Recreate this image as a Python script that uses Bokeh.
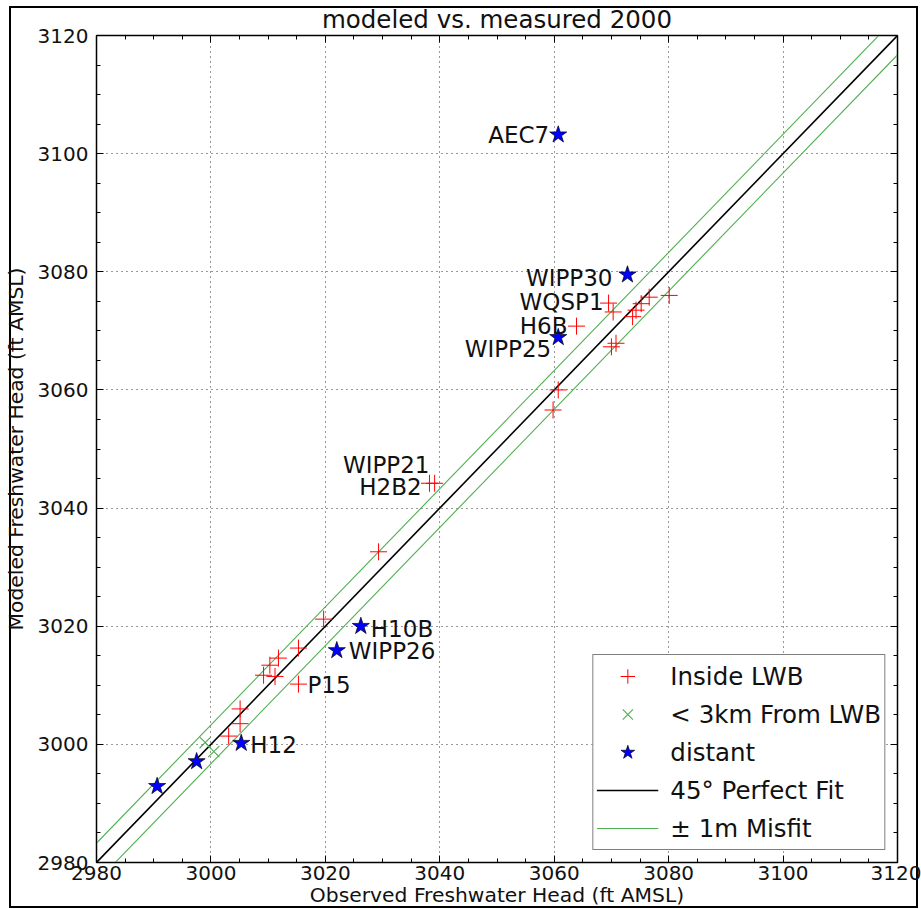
from bokeh.plotting import figure
from bokeh.models import Range1d, LinearAxis, SingleIntervalTicker, Legend, LegendItem
from bokeh.core.properties import value
from bokeh.embed import file_html
from bokeh.resources import INLINE

# ---------------- data ----------------
inside_x = [3019.7, 3015.3, 3011.8, 3010.3, 3009.2, 3011.2, 3015.3, 3005.1, 3005.1, 3003.1,
            3029.3, 3038.2, 3039.1, 3059.8, 3060.7, 3070.0, 3070.8, 3063.9, 3069.5, 3070.3,
            3073.7, 3074.3, 3075.2, 3076.6, 3080.1]
inside_y = [3021.2, 3016.3, 3014.6, 3013.4, 3011.7, 3011.5, 3010.2, 3006.0, 3003.5, 3001.4,
            3032.6, 3044.2, 3044.2, 3056.6, 3060.0, 3067.3, 3067.9, 3070.8, 3074.7, 3073.2,
            3072.4, 3073.5, 3074.6, 3075.7, 3076.0]

near_x = [2999.0, 3000.5]
near_y = [3000.3, 2998.8]

distant_x = [3060.7, 3072.8, 3060.7, 3026.2, 3022.0, 3005.3, 2997.5, 2990.6]
distant_y = [3103.2, 3079.5, 3068.9, 3020.0, 3015.9, 3000.2, 2997.1, 2992.9]

fit_x = [2970, 3130]
misfit = 3.28  # 1 m in ft

# labels placed left of their point (right aligned)
left_names = ["AEC7", "WIPP30", "WQSP1", "H6B", "WIPP25", "WIPP21", "H2B2"]
left_x = [3060.7, 3072.8, 3069.5, 3063.9, 3060.7, 3038.2, 3039.1]
left_y = [3103.2, 3079.5, 3074.7, 3070.8, 3068.9, 3044.2, 3044.2]
left_dx = [-9, -15, -5, -9, -7, 0, -13]
left_dy = [0, 3, -1, 0, 12, -18, 4]

# labels placed right of their point (left aligned)
right_names = ["H10B", "WIPP26", "P15", "H12"]
right_x = [3026.2, 3022.0, 3015.3, 3005.3]
right_y = [3020.0, 3015.9, 3010.2, 3000.2]
right_dx = [10, 12, 9, 9]
right_dy = [3, 1, 1, 2]

FONT = "DejaVu Sans"
GREEN = "#4fae4f"

p = figure(width=921, height=909, output_backend="svg", toolbar_location=None,
           x_range=Range1d(2980, 3120), y_range=Range1d(2980, 3120),
           min_border_left=94, min_border_right=24, min_border_top=35, min_border_bottom=46,
           title="modeled vs. measured 2000",
           x_axis_label="Observed Freshwater Head (ft AMSL)",
           y_axis_label="Modeled Freshwater Head (ft AMSL)")
# outer picture frame drawn behind a transparent canvas border
line = "linear-gradient(#000,#000)"
p.styles = {"background": (f"{line} 9px 6px / 2px 902px no-repeat, "
                           f"{line} 9px 6px / 909px 2px no-repeat, "
                           f"{line} 916px 6px / 2px 902px no-repeat, "
                           f"{line} 9px 906px / 909px 2px no-repeat, white")}
p.background_fill_color = "white"
p.border_fill_color = None
p.outline_line_color = "black"
p.outline_line_width = 1.5

p.title.align = "center"
p.title.text_font = FONT
p.title.text_font_size = "24.5px"
p.title.text_font_style = "normal"
p.title.text_color = "#111111"
p.title.standoff = 3

for ax in (p.xaxis[0], p.yaxis[0]):
    ax.ticker = SingleIntervalTicker(interval=20, num_minor_ticks=4)
    ax.major_tick_in = 7
    ax.major_tick_out = 0
    ax.minor_tick_in = 4
    ax.minor_tick_out = 0
    ax.major_tick_line_color = "black"
    ax.minor_tick_line_color = "black"
    ax.axis_line_color = "black"
    ax.major_label_text_font = FONT
    ax.major_label_text_font_size = "20px"
    ax.major_label_text_color = "#111111"
    ax.axis_label_text_font = FONT
    ax.axis_label_text_font_size = "20.3px"
    ax.axis_label_text_font_style = "normal"
    ax.axis_label_text_color = "#111111"
p.xaxis[0].major_label_standoff = 3
p.xaxis[0].axis_label_standoff = 0
p.yaxis[0].major_label_standoff = 8
p.yaxis[0].axis_label_standoff = 7

for loc in ("above", "right"):
    ax = LinearAxis(ticker=SingleIntervalTicker(interval=20, num_minor_ticks=4),
                    major_tick_in=7, major_tick_out=0, minor_tick_in=4, minor_tick_out=0,
                    major_label_text_font_size="1px", major_label_text_color=None,
                    major_label_standoff=0, axis_line_color="black")
    p.add_layout(ax, loc)

p.grid.ticker = SingleIntervalTicker(interval=20)
p.grid.grid_line_color = "black"
p.grid.grid_line_alpha = 0.8
p.grid.grid_line_dash = "1 4"
p.grid.grid_line_width = 1

# lines
r_fit = p.line(fit_x, fit_x, line_color="black", line_width=1.6)
upper = [v + misfit for v in fit_x]
lower = [v - misfit for v in fit_x]
r_mis = p.line(fit_x, upper, line_color=GREEN, line_width=1.1)
p.line(fit_x, lower, line_color=GREEN, line_width=1.1)

# markers
r_in = p.scatter(inside_x, inside_y, marker="cross", size=17, line_color="red", line_width=1)
r_near = p.scatter(near_x, near_y, marker="x", size=16, line_color=GREEN, line_width=1.1)
r_dist = p.scatter(distant_x, distant_y, marker="star", size=18, fill_color="blue",
                   line_color="black", line_width=0.7)

# labels
p.text(x=left_x, y=left_y, text=left_names, x_offset=left_dx, y_offset=left_dy,
       text_align="right", text_baseline="middle", text_font=value(FONT),
       text_font_size="23px", text_color="#111111")
p.text(x=right_x, y=right_y, text=right_names, x_offset=right_dx, y_offset=right_dy,
       text_align="left", text_baseline="middle", text_font=value(FONT),
       text_font_size="23px", text_color="#111111")

legend = Legend(items=[
    LegendItem(label="Inside LWB", renderers=[r_in]),
    LegendItem(label="< 3km From LWB", renderers=[r_near]),
    LegendItem(label="distant", renderers=[r_dist]),
    LegendItem(label="45° Perfect Fit", renderers=[r_fit]),
    LegendItem(label="± 1m Misfit", renderers=[r_mis]),
], location="bottom_right")
legend.label_text_font = FONT
legend.label_text_font_size = "24.5px"
legend.label_text_color = "#111111"
legend.border_line_color = "black"
legend.border_line_width = 1.5
legend.background_fill_alpha = 1
legend.margin = 12
legend.padding = 3
legend.spacing = 2
legend.label_height = 36
legend.glyph_height = 36
legend.glyph_width = 62
legend.label_standoff = 12
p.add_layout(legend)

open("out.html", "w").write(file_html(p, INLINE))
